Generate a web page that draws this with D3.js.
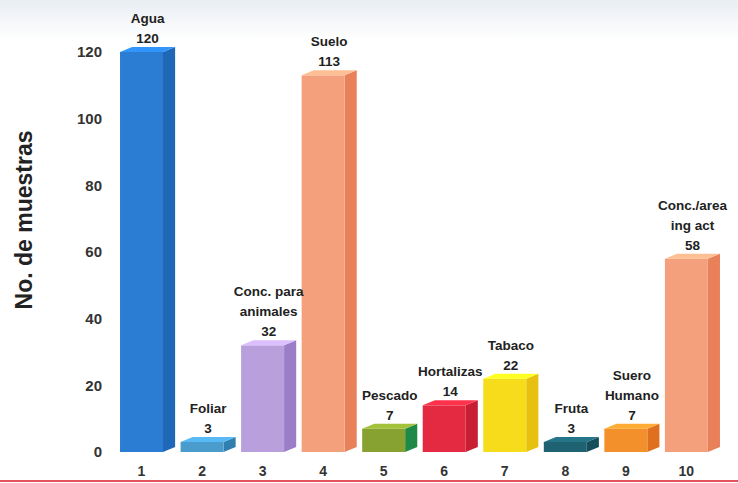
<!DOCTYPE html>
<html>
<head>
<meta charset="utf-8">
<script src="https://cdn.jsdelivr.net/npm/d3@7"></script>
<style>
  html, body { margin: 0; padding: 0; background: #fff; }
  svg { display: block; }
</style>
</head>
<body>
<svg id="chart" width="738" height="483"></svg>
<script>
// Number of samples per matrix type
const categories = ["1", "2", "3", "4", "5", "6", "7", "8", "9", "10"];
const values = [120, 3, 32, 113, 7, 14, 22, 3, 7, 58];
const labelLines = [
  ["Agua"], ["Foliar"], ["Conc. para", "animales"], ["Suelo"], ["Pescado"],
  ["Hortalizas"], ["Tabaco"], ["Fruta"], ["Suero", "Humano"], ["Conc./area", "ing act"]
];
const yTicks = [0, 20, 40, 60, 80, 100, 120];
const frontColors = ["#2a7dd2", "#4a9ccc", "#b9a0dc", "#f5a07c", "#88a232",
                     "#e32a40", "#f7dc1c", "#1f6272", "#f4902c", "#f5a07c"];
const sideColors  = ["#1f68b8", "#2f7fb0", "#9a7fc8", "#e8805a", "#1f8a48",
                     "#c81e34", "#e8c010", "#174e5c", "#e07020", "#e8805a"];
const yTitle = "No. de muestras";

const svg = d3.select("#chart");
const W = 738, H = 483;

// faint haze along the top edge
const defs = svg.append("defs");
const haze = defs.append("linearGradient").attr("id", "haze")
  .attr("x1", 0).attr("y1", 0).attr("x2", 0).attr("y2", 1);
haze.append("stop").attr("offset", "0%").attr("stop-color", "#e9eef3");
haze.append("stop").attr("offset", "100%").attr("stop-color", "#ffffff");
svg.append("rect").attr("x", 0).attr("y", 0).attr("width", W).attr("height", 40)
  .attr("fill", "url(#haze)");

const x = d3.scaleBand().domain(categories).range([117.3, 722.7])
  .paddingInner(0.09).paddingOuter(0.045);
const y = d3.scaleLinear().domain([0, 120]).range([452, 52]);

const bw = x.bandwidth();
const front = bw * 0.78;
const depth = 5;

// y axis labels
const yAxis = svg.append("g").attr("transform", "translate(105,0)")
  .call(d3.axisLeft(y).tickValues(yTicks).tickSize(0).tickPadding(3));
yAxis.select(".domain").remove();
yAxis.selectAll("text")
  .attr("font-family", "'Liberation Sans', Arial, sans-serif")
  .attr("font-weight", "bold").attr("font-size", 15).attr("fill", "#333");

// x axis labels, centred on the bar front faces
const xAxis = svg.append("g").attr("transform", "translate(0,452)")
  .call(d3.axisBottom(x).tickSize(0).tickPadding(14));
xAxis.select(".domain").remove();
xAxis.selectAll("text")
  .attr("transform", `translate(${-(bw - front) / 2},0)`)
  .attr("font-family", "'Liberation Sans', Arial, sans-serif")
  .attr("font-weight", "bold").attr("font-size", 14).attr("fill", "#333");

// axis title
svg.append("text")
  .attr("transform", "translate(32,220) rotate(-90)")
  .attr("text-anchor", "middle")
  .attr("font-family", "'Liberation Sans', Arial, sans-serif")
  .attr("font-weight", "bold").attr("font-size", 23).attr("fill", "#222")
  .text(yTitle);

// 3D-style bars
const bars = svg.append("g").selectAll("g").data(values).join("g");
bars.each(function (v, i) {
  const g = d3.select(this);
  const x0 = x(categories[i]);
  const yt = y(v), yb = y(0);
  const light = d3.color(frontColors[i]).brighter(0.5);
  // side face
  g.append("polygon")
    .attr("points", [[x0 + front, yt], [x0 + bw, yt - depth], [x0 + bw, yb - depth], [x0 + front, yb]].join(" "))
    .attr("fill", sideColors[i]);
  // front face
  g.append("rect").attr("x", x0).attr("y", yt).attr("width", front).attr("height", yb - yt)
    .attr("fill", frontColors[i]);
  // top face
  g.append("polygon")
    .attr("points", [[x0, yt], [x0 + front, yt], [x0 + bw, yt - depth], [x0 + bw - front, yt - depth]].join(" "))
    .attr("fill", light);
});

// category name and value above each bar
const lineH = 20;
const labels = svg.append("g")
  .attr("font-family", "'Liberation Sans Narrow', 'Liberation Sans', Arial, sans-serif")
  .attr("font-weight", "bold").attr("font-size", 13.5).attr("fill", "#222")
  .attr("text-anchor", "middle");
values.forEach((v, i) => {
  const cx = x(categories[i]) + bw / 2;
  const base = y(v) - depth - 4;
  const lines = labelLines[i].concat([String(v)]);
  lines.forEach((t, j) => {
    labels.append("text")
      .attr("x", cx)
      .attr("y", base - (lines.length - 1 - j) * lineH)
      .text(t);
  });
});

// red rule along the bottom edge
svg.append("line").attr("x1", 0).attr("x2", W).attr("y1", 481).attr("y2", 481)
  .attr("stroke", "#e4505e").attr("stroke-width", 2);
</script>
</body>
</html>
